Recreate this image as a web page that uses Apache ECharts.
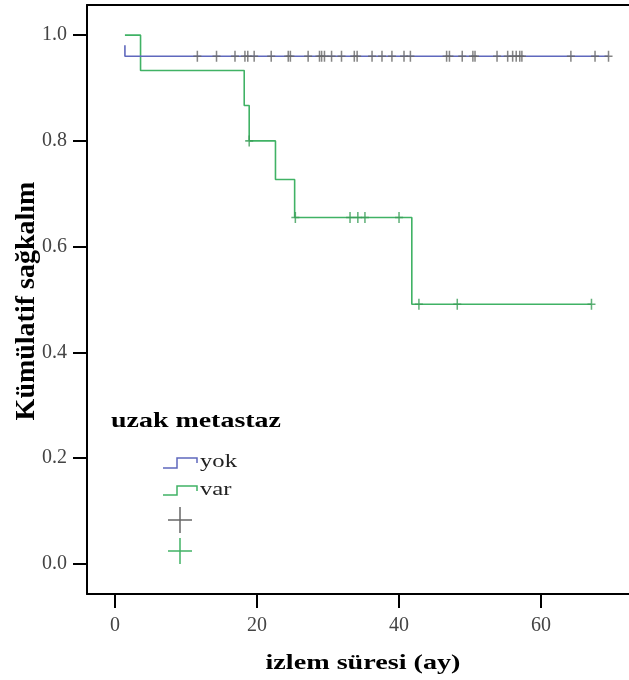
<!DOCTYPE html>
<html><head><meta charset="utf-8">
<script src="https://cdn.jsdelivr.net/npm/echarts@6/dist/echarts.min.js"></script>
<style>html,body{margin:0;padding:0;background:#fff}#c{width:629px;height:680px}</style>
</head><body><div id="c"></div>
<script>
// ---- data ----
const xTicks = [0, 20, 40, 60];
const yTicks = [0, 0.2, 0.4, 0.6, 0.8, 1.0];
const groupNames = ['yok', 'var'];
const legendTitle = 'uzak metastaz';
const xTitle = 'izlem süresi (ay)';
const yTitle = 'Kümülatif sağkalım';

const yokTimes = [1.4, 1.4, 69.5];
const yokSurv  = [0.981, 0.96, 0.96];
const yokCensor = [11.6, 14.3, 16.9, 18.3, 18.7, 19.6, 22.0, 24.4, 24.7, 27.2, 28.8, 29.1, 29.5, 30.5, 31.9,
  33.7, 34.1, 36.2, 37.6, 39.0, 40.7, 41.6, 46.7, 47.1, 48.9, 50.4, 50.7, 53.8, 55.3, 56.0, 56.5, 57.0, 57.3,
  64.2, 67.6, 69.5];

const varTimes = [1.4, 3.6, 18.2, 18.9, 22.6, 25.3, 41.8, 67.1];
const varSurv  = [1.0, 0.933, 0.867, 0.8, 0.727, 0.655, 0.491, 0.491];
const varCensor = [18.9, 25.4, 33.1, 34.2, 35.2, 40.0, 42.8, 48.2, 67.1];

// ---- helpers ----
function survAt(times, surv, t) {
  let v = surv[0];
  for (let i = 0; i < times.length; i++) if (times[i] <= t + 1e-9) v = surv[i];
  return v;
}
const zip = (a, b) => a.map((v, i) => [v, b[i]]);
const blue = '#5f68bd', green = '#40b265', censorGray = '#666666', censorGreen = '#3a9d58';
const plusPath = 'path://M40.5,0H59.5V43H100V57H59.5V100H40.5V57H0V43H40.5Z';
const serif = '"Liberation Serif", "Times New Roman", serif';
const frameLine = {show: true, onZero: false, lineStyle: {color: '#000', width: 2}};

const chart = echarts.init(document.getElementById('c'), null, {renderer: 'canvas'});
chart.setOption({
  backgroundColor: '#fff',
  animation: false,
  grid: {left: 87, top: 5, width: 562, bottom: 86, show: false, containLabel: false, outerBoundsMode: 'none'},
  xAxis: [{
    type: 'value', min: -3.94, max: 75.2, position: 'bottom',
    splitLine: {show: false}, axisLine: frameLine,
    axisTick: {show: true, inside: false, customValues: xTicks, length: 14, lineStyle: {color: '#000', width: 2}},
    axisLabel: {customValues: xTicks, margin: 22, fontFamily: serif, fontSize: 20, color: '#444'}
  }, {
    type: 'value', min: -3.94, max: 75.2, position: 'top',
    splitLine: {show: false}, axisLine: frameLine, axisTick: {show: false}, axisLabel: {show: false}
  }],
  yAxis: {
    type: 'value', min: -0.057, max: 1.057,
    splitLine: {show: false}, axisLine: frameLine,
    axisTick: {show: true, inside: false, customValues: yTicks, length: 14, lineStyle: {color: '#000', width: 2}},
    axisLabel: {customValues: yTicks, margin: 20, fontFamily: serif, fontSize: 20, color: '#444',
      formatter: v => v.toFixed(1)}
  },
  series: [
    {type: 'line', name: groupNames[1], step: 'end', data: zip(varTimes, varSurv), symbol: 'none',
      lineStyle: {color: green, width: 1.6}, z: 2},
    {type: 'line', name: groupNames[0], step: 'end', data: zip(yokTimes, yokSurv), symbol: 'none',
      lineStyle: {color: blue, width: 1.6}, z: 3},
    {type: 'scatter', data: yokCensor.map(t => [t, survAt(yokTimes, yokSurv, t)]), symbol: plusPath,
      symbolSize: [8, 11], itemStyle: {color: censorGray}, z: 4},
    {type: 'scatter', data: varCensor.map(t => [t, survAt(varTimes, varSurv, t)]), symbol: plusPath,
      symbolSize: [8, 11], itemStyle: {color: censorGreen}, z: 4}
  ],
  graphic: [
    {type: 'text', x: 363, y: 663, scaleX: 1.28, style: {text: xTitle, font: 'bold 22px ' + serif, fill: '#000', align: 'center', verticalAlign: 'middle'}},
    {type: 'text', x: 27, y: 301, rotation: Math.PI / 2, style: {text: yTitle, font: 'bold 28px ' + serif, fill: '#000', align: 'center', verticalAlign: 'middle'}},
    {type: 'text', x: 111, y: 421, scaleX: 1.27, style: {text: legendTitle, font: 'bold 22px ' + serif, fill: '#000', align: 'left', verticalAlign: 'middle'}},
    {type: 'polyline', shape: {points: [[163, 468], [177, 468], [177, 458], [197, 458], [197, 463]]}, style: {stroke: blue, lineWidth: 1.5, fill: null}},
    {type: 'text', x: 200, y: 462, scaleX: 1.3, style: {text: groupNames[0], font: '19px ' + serif, fill: '#222', align: 'left', verticalAlign: 'middle'}},
    {type: 'polyline', shape: {points: [[163, 495], [177, 495], [177, 486], [197, 486], [197, 491]]}, style: {stroke: green, lineWidth: 1.5, fill: null}},
    {type: 'text', x: 200, y: 490, scaleX: 1.3, style: {text: groupNames[1], font: '19px ' + serif, fill: '#222', align: 'left', verticalAlign: 'middle'}},
    {type: 'line', shape: {x1: 168, y1: 520, x2: 192, y2: 520}, style: {stroke: censorGray, lineWidth: 1.5}},
    {type: 'line', shape: {x1: 180, y1: 507, x2: 180, y2: 533}, style: {stroke: censorGray, lineWidth: 1.5}},
    {type: 'line', shape: {x1: 168, y1: 551, x2: 192, y2: 551}, style: {stroke: green, lineWidth: 1.5}},
    {type: 'line', shape: {x1: 180, y1: 538, x2: 180, y2: 564}, style: {stroke: green, lineWidth: 1.5}}
  ]
});
</script></body></html>
